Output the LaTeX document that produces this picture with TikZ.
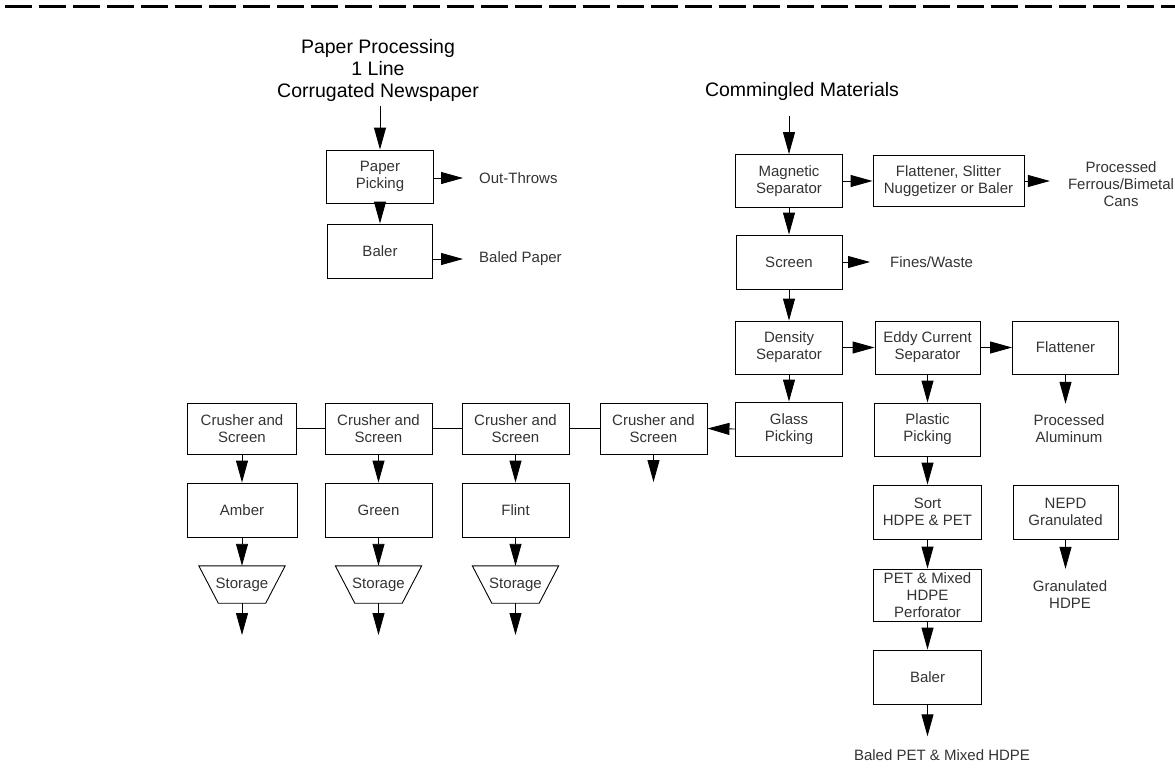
\documentclass[tikz,border=0pt]{standalone}
\usepackage{fontspec}
\setmainfont{Liberation Sans}
\usetikzlibrary{arrows.meta}
\begin{document}
\begin{tikzpicture}[x=1pt,y=-1pt,
  box/.style={draw, line width=0.9pt, align=center, inner sep=1pt, font=\fontsize{15}{17}\selectfont, text=black!80},
  lbl/.style={align=center, inner sep=0pt, font=\fontsize{15}{17}\selectfont, text=black!80},
  ttl/.style={align=center, inner sep=0pt, font=\fontsize{19.5}{22}\selectfont},
  arr/.style={line width=0.9pt, -{Triangle[length=22pt,width=12pt]}},
  ln/.style={line width=0.9pt},
  stor/.style={minimum width=86pt, minimum height=37pt, inner sep=0pt, font=\fontsize{15}{17}\selectfont, text=black!80},
  trap/.style={line width=0.9pt}]
\useasboundingbox (0,0) rectangle (1175,771);
% top dashed rule
\draw[line width=3pt, dash pattern=on 27pt off 7pt] (5,6) -- (1175,6);

% ---- paper line ----
\node[ttl] (t1) at (378,70) {Paper Processing\\1 Line\\Corrugated Newspaper};
\node[box, minimum width=107pt, minimum height=53pt] (pp) at (380,176.5) {Paper\\Picking};
\node[box, minimum width=105pt, minimum height=54pt] (b1) at (380,251) {Baler};
\node[lbl, anchor=west] (ot) at (479,178) {Out-Throws};
\node[lbl, anchor=west] (bpap) at (479,259) {Baled Paper};
\draw[arr, shorten <=5pt] (t1.south -| pp.north) -- (pp.north);
\draw[arr] (pp.south) -- (b1.north);
\draw[arr, shorten >=16pt] (pp.east |- ot.west) -- (ot.west);
\draw[arr, shorten >=16pt] (b1.east |- bpap.west) -- (bpap.west);

% ---- commingled line ----
\node[ttl] (cm) at (802,91) {Commingled Materials};
\node[box, minimum width=107pt, minimum height=53pt] (mag) at (789,181) {Magnetic\\Separator};
\node[box, minimum width=151pt, minimum height=51pt] (fl1) at (948.5,181) {Flattener, Slitter\\Nuggetizer or Baler};
\node[lbl] (fer) at (1121,184) {Processed\\Ferrous/Bimetal\\Cans};
\node[box, minimum width=106pt, minimum height=54pt] (scr) at (789,262) {Screen};
\node[lbl, anchor=west] (fin) at (890,262) {Fines/Waste};
\node[box, minimum width=107pt, minimum height=53pt] (den) at (789,347.5) {Density\\Separator};
\node[box, minimum width=105pt, minimum height=53pt] (edd) at (927.5,347.5) {Eddy Current\\Separator};
\node[box, minimum width=106pt, minimum height=53pt] (fl2) at (1065.5,347.5) {Flattener};
\node[lbl] (alu) at (1069,429) {Processed\\Aluminum};
\node[box, minimum width=107pt, minimum height=54pt] (gla) at (789,429) {Glass\\Picking};
\node[box, minimum width=106pt, minimum height=53pt] (pla) at (927.5,429.5) {Plastic\\Picking};
\node[box, minimum width=108pt, minimum height=54pt] (sor) at (927.5,512) {Sort\\HDPE \& PET};
\node[box, minimum width=105pt, minimum height=54pt] (nep) at (1065.5,512) {NEPD\\Granulated};
\node[lbl] (gra) at (1070,595) {Granulated\\HDPE};
\node[box, minimum width=108pt, minimum height=52pt] (pet) at (927.5,595) {PET \& Mixed\\HDPE\\Perforator};
\node[box, minimum width=108pt, minimum height=54pt] (b2) at (927.5,677) {Baler};
\node[lbl] (bpet) at (942,755) {Baled PET \& Mixed HDPE};

\draw[arr, shorten <=16pt] (cm.south -| mag.north) -- (mag.north);
\draw[arr] (mag.east) -- (fl1.west);
\draw[arr, shorten >=18pt] (fl1.east) -- (fl1.east -| fer.west);
\draw[arr] (mag.south) -- (scr.north);
\draw[arr, shorten >=20pt] (scr.east) -- (fin.west);
\draw[arr] (scr.south) -- (den.north);
\draw[arr] (den.east) -- (edd.west);
\draw[arr] (edd.east) -- (fl2.west);
\draw[arr, shorten >=11pt] (fl2.south) -- (fl2.south |- alu.north);
\draw[arr] (den.south) -- (gla.north);
\draw[arr] (edd.south) -- (pla.north);
\draw[arr] (pla.south) -- (sor.north);
\draw[arr] (sor.south) -- (pet.north);
\draw[arr] (pet.south) -- (b2.north);
\draw[arr, shorten >=13pt] (b2.south) -- (b2.south |- bpet.north);
\draw[arr, shorten >=12pt] (nep.south) -- (nep.south |- gra.north);

% ---- glass line ----
\node[box, minimum width=109pt, minimum height=51pt] (c1) at (242,428.5) {Crusher and\\Screen};
\node[box, minimum width=107pt, minimum height=51pt] (c2) at (378.5,428.5) {Crusher and\\Screen};
\node[box, minimum width=107pt, minimum height=51pt] (c3) at (515.5,428.5) {Crusher and\\Screen};
\node[box, minimum width=107pt, minimum height=51pt] (c4) at (653.5,428.5) {Crusher and\\Screen};
\coordinate (c4o) at (653.5,482);
\node[box, minimum width=110pt, minimum height=54pt] (amb) at (242,510) {Amber};
\node[box, minimum width=107pt, minimum height=54pt] (gre) at (378.5,510) {Green};
\node[box, minimum width=107pt, minimum height=54pt] (fli) at (515.5,510) {Flint};
\node[stor] (s1) at (242,584.5) {Storage};
\node[stor] (s2) at (378.5,584.5) {Storage};
\node[stor] (s3) at (515.5,584.5) {Storage};
\foreach \s in {s1,s2,s3}{
  \draw[trap] (\s.north west) -- (\s.north east) -- ([xshift=-19.5pt]\s.south east) -- ([xshift=19.5pt]\s.south west) -- cycle;
}
\coordinate (o1) at (242,635);
\coordinate (o2) at (378.5,635);
\coordinate (o3) at (515.5,635);

\draw[arr] (gla.west) -- (c4.east);
\draw[arr] (c4.south) -- (c4o);
\draw[ln] (c1.east) -- (c2.west);
\draw[ln] (c2.east) -- (c3.west);
\draw[ln] (c3.east) -- (c4.west);
\draw[arr] (c1.south) -- (amb.north);
\draw[arr] (c2.south) -- (gre.north);
\draw[arr] (c3.south) -- (fli.north);
\draw[arr] (amb.south) -- (s1.north);
\draw[arr] (gre.south) -- (s2.north);
\draw[arr] (fli.south) -- (s3.north);
\draw[arr] (s1.south) -- (o1);
\draw[arr] (s2.south) -- (o2);
\draw[arr] (s3.south) -- (o3);
\end{tikzpicture}
\end{document}
